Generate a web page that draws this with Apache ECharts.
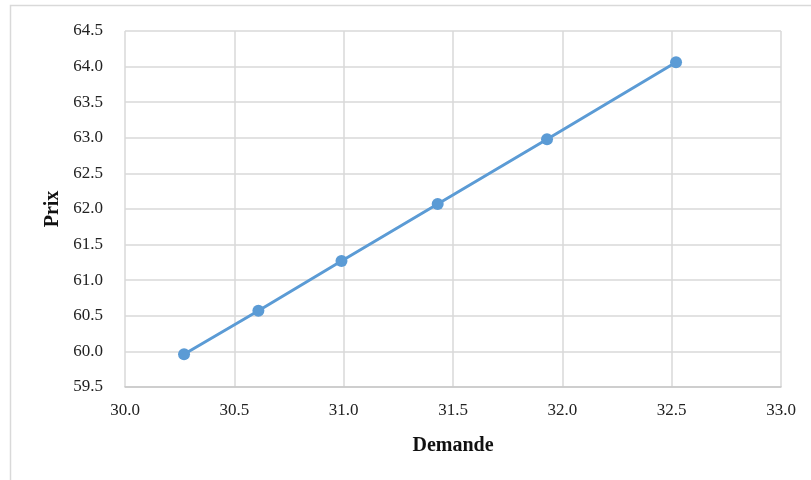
<!DOCTYPE html>
<html>
<head>
<meta charset="utf-8">
<script src="https://cdn.jsdelivr.net/npm/echarts@6/dist/echarts.min.js"></script>
<style>
  html, body { margin: 0; padding: 0; background: #fff; }
  #main { width: 811px; height: 480px; }
</style>
</head>
<body>
<div id="main"></div>
<script>
// Demande (x) et Prix (y)
var demande = [30.27, 30.61, 30.99, 31.43, 31.93, 32.52];
var prix = [59.96, 60.57, 61.27, 62.07, 62.98, 64.06];

var points = demande.map(function (d, i) { return [d, prix[i]]; });

var myChart = echarts.init(document.getElementById('main'));
var font = '"Liberation Serif", "Times New Roman", serif';

var option = {
    backgroundColor: '#fff',
    animation: false,
    graphic: [{
        type: 'rect',
        silent: true,
        shape: { x: 10.5, y: 5.5, width: 900, height: 600 },
        style: { fill: 'none', stroke: '#d9d9d9', lineWidth: 1.5 }
    }],
    grid: { left: 125, right: 30, top: 31, bottom: 93 },
    xAxis: {
        type: 'value',
        min: 30, max: 33, interval: 0.5,
        name: 'Demande',
        nameLocation: 'middle',
        nameGap: 49,
        nameTextStyle: { fontFamily: font, fontWeight: 'bold', fontSize: 20, color: '#111' },
        axisLine: { show: true, lineStyle: { color: '#c8c8c8', width: 1.5 } },
        axisTick: { show: false },
        axisLabel: {
            margin: 15, fontFamily: font, fontSize: 17, color: '#222',
            formatter: function (v) { return v.toFixed(1); }
        },
        splitLine: { show: true, lineStyle: { color: '#d9d9d9', width: 1.5 } }
    },
    yAxis: {
        type: 'value',
        min: 59.5, max: 64.5, interval: 0.5,
        name: 'Prix',
        nameLocation: 'middle',
        nameGap: 62,
        nameRotate: 90,
        nameTextStyle: { fontFamily: font, fontWeight: 'bold', fontSize: 20, color: '#111' },
        axisLine: { show: false },
        axisTick: { show: false },
        axisLabel: {
            margin: 22, fontFamily: font, fontSize: 17, color: '#222',
            formatter: function (v) { return v.toFixed(1); }
        },
        splitLine: { show: true, lineStyle: { color: '#d9d9d9', width: 1.5 } }
    },
    series: [{
        type: 'line',
        data: points,
        symbol: 'circle',
        symbolSize: 12,
        lineStyle: { color: '#5B9BD5', width: 3 },
        itemStyle: { color: '#5B9BD5' }
    }]
};

myChart.setOption(option);
</script>
</body>
</html>
